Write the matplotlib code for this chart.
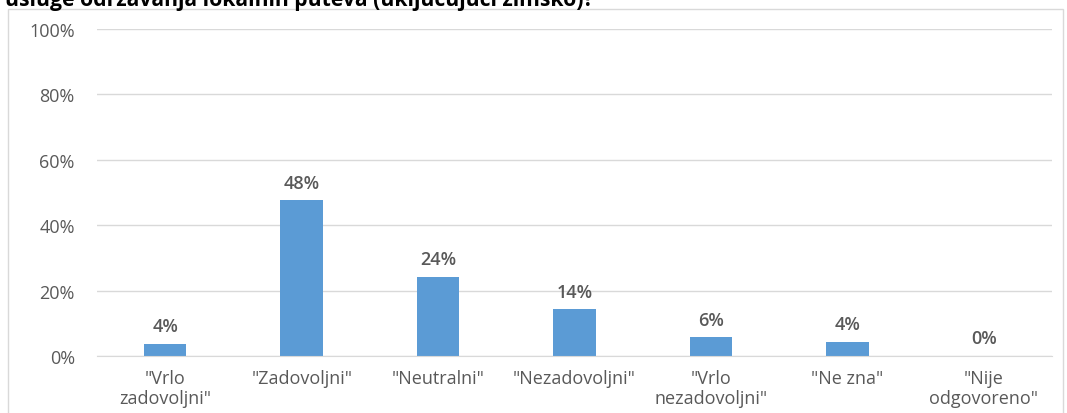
import matplotlib.pyplot as plt
from matplotlib.patches import Rectangle

# --- DATA ---
categories = ['"Vrlo\nzadovoljni"', '"Zadovoljni"', '"Neutralni"', '"Nezadovoljni"',
              '"Vrlo\nnezadovoljni"', '"Ne zna"', '"Nije\nodgovoreno"']
values = [3.7, 47.7, 24.3, 14.3, 5.8, 4.3, 0.0]
value_labels = ['4%', '48%', '24%', '14%', '6%', '4%', '0%']
yticks = [0, 20, 40, 60, 80, 100]
title = 'usluge održavanja lokalnih puteva (uključujući zimsko)?'

plt.rcParams['font.family'] = ['Open Sans', 'DejaVu Sans']
GRAY = '#595959'
BLUE = '#5b9bd5'

fig = plt.figure(figsize=(10.67, 4.14), dpi=100)
W, H = 1067, 414

# outer chart frame (partially cut off at bottom)
fig.patches.append(Rectangle((8 / W, -0.05), (1063 - 8) / W, 1.05 - 10 / H,
                             transform=fig.transFigure, fill=False,
                             edgecolor='#d9d9d9', linewidth=1.0))

# title, clipped at the top of the image
fig.text(5 / W, 1 - 6 / H, title, fontsize=15.2, fontweight='bold', color='black',
         va='baseline', ha='left')

ax = fig.add_axes([97 / W, 1 - 357 / H, (1052 - 97) / W, (357 - 30) / H])
x = range(len(categories))
ax.bar(x, values, width=0.31, color=BLUE, zorder=3)
for xi, v, lab in zip(x, values, value_labels):
    ax.text(xi, v + 2.6, lab, ha='center', va='bottom', fontsize=13,
            color=GRAY, fontweight='semibold')

ax.set_ylim(0, 100)
ax.set_xlim(-0.5, len(categories) - 0.5)
ax.set_yticks(yticks)
ax.set_yticklabels([f'{t}%' for t in yticks])
ax.set_xticks(list(x))
ax.set_xticklabels(categories, linespacing=1.2)
ax.tick_params(axis='y', length=0, pad=16, labelsize=13, labelcolor=GRAY)
ax.tick_params(axis='x', length=0, pad=9, labelsize=13, labelcolor=GRAY)
ax.grid(axis='y', color='#d9d9d9', linewidth=1.0, zorder=0)
for s in ['top', 'right', 'left']:
    ax.spines[s].set_visible(False)
ax.spines['bottom'].set_color('#d9d9d9')
ax.spines['bottom'].set_zorder(4)

fig.savefig('out.png', dpi=100)
